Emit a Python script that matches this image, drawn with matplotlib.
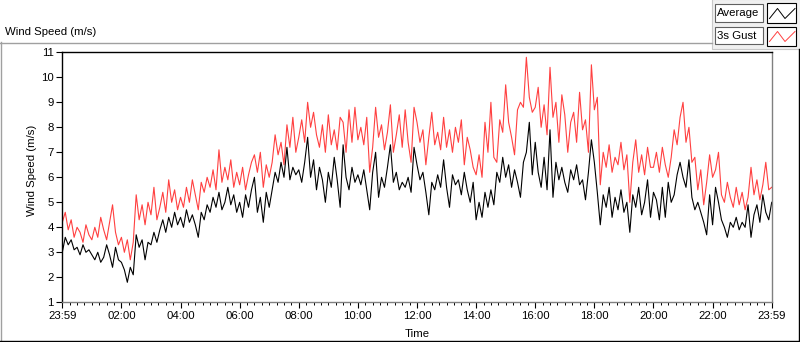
import numpy as np
import matplotlib.pyplot as plt
from matplotlib.lines import Line2D
from matplotlib.patches import Rectangle
from matplotlib.ticker import MultipleLocator

plt.rcParams['font.family'] = ['Liberation Sans', 'DejaVu Sans']

# wind speed, one value every 6 minutes (0.1 h), 23:59 -> 23:59
avg = [3.0, 3.6, 3.3, 3.5, 3.1, 3.2, 2.9, 3.3, 3.0, 3.1,
       2.9, 2.7, 3.0, 2.6, 2.8, 3.3, 2.9, 2.4, 3.2, 2.7,
       2.6, 2.3, 1.8, 2.4, 2.1, 3.7, 3.2, 3.5, 2.7, 3.4,
       3.3, 3.8, 3.4, 3.9, 4.3, 3.8, 4.4, 4.0, 4.6, 4.1,
       4.4, 4.0, 4.7, 4.2, 4.5, 4.1, 3.6, 4.6, 4.3, 4.9,
       4.6, 5.2, 4.8, 5.4, 4.7, 5.0, 5.6, 4.9, 5.3, 4.6,
       5.0, 4.4, 5.3, 4.8, 5.5, 6.0, 4.6, 5.2, 4.2, 5.4,
       4.8, 5.5, 6.2, 5.8, 6.6, 6.0, 7.2, 5.9, 6.4, 6.1,
       6.3, 5.8, 6.6, 7.6, 6.0, 6.7, 5.5, 6.4, 5.9, 5.0,
       6.2, 5.6, 6.8, 5.9, 4.8, 7.3, 6.0, 5.5, 6.4, 5.8,
       6.1, 5.7, 6.3, 5.5, 4.7, 6.2, 7.0, 5.2, 6.0, 5.6,
       6.4, 7.3, 5.8, 6.2, 5.5, 5.8, 5.6, 6.0, 5.4, 7.2,
       6.5, 5.9, 6.2, 5.4, 4.5, 5.8, 5.5, 6.1, 5.6, 6.7,
       5.6, 4.8, 6.1, 5.7, 5.9, 5.3, 6.2, 5.5, 5.0, 5.8,
       4.3, 5.0, 4.4, 5.4, 4.8, 5.5, 4.9, 6.2, 5.8, 6.8,
       6.0, 6.5, 5.6, 6.3, 5.8, 5.2, 6.6, 7.0, 8.2, 6.1,
       7.4, 6.2, 5.6, 6.8, 5.5, 7.9, 5.2, 6.6, 5.9, 6.4,
       5.8, 5.4, 6.3, 5.9, 6.5, 5.7, 5.9, 5.1, 6.2, 7.5,
       6.6, 5.4, 4.1, 5.3, 4.8, 5.6, 4.4, 5.2, 4.7, 5.5,
       4.6, 5.0, 3.8, 5.3, 4.8, 5.6, 4.5, 5.0, 5.9, 4.4,
       5.4, 5.1, 4.3, 5.6, 4.4, 5.8, 5.0, 5.3, 6.1, 6.6,
       6.0, 5.6, 6.7, 5.2, 4.7, 5.0, 4.6, 4.2, 3.7, 5.3,
       4.1, 5.6, 5.0, 4.3, 4.0, 3.6, 4.2, 4.0, 4.4, 3.9,
       4.2, 4.0, 4.9, 3.6, 4.5, 4.9, 4.2, 5.3, 4.6, 4.3,
       5.0]

gust = [4.2, 4.6, 3.9, 4.3, 3.6, 4.0, 3.8, 3.4, 4.1, 3.7,
        3.5, 4.0, 3.6, 4.4, 3.9, 3.5, 4.2, 4.9, 3.8, 3.3,
        3.6, 3.0, 3.5, 2.7, 3.4, 5.3, 4.3, 4.9, 4.1, 5.0,
        4.5, 5.6, 4.3, 4.8, 5.4, 4.6, 5.9, 5.0, 5.5, 4.7,
        5.2, 4.8, 5.6, 5.0, 5.9, 5.3, 4.7, 5.8, 5.4, 6.0,
        5.6, 6.3, 5.5, 7.1, 5.8, 6.4, 5.9, 6.7, 5.6, 6.2,
        5.7, 6.4, 5.5, 6.1, 6.6, 6.9, 6.2, 7.0, 5.6, 6.5,
        6.0, 6.6, 7.7, 6.9, 7.4, 6.5, 8.1, 7.2, 8.4, 7.0,
        7.6, 8.3, 7.4, 9.0, 8.0, 8.6, 7.7, 7.2, 8.1, 7.0,
        8.5, 7.3, 7.9, 7.1, 8.4, 8.2, 7.0, 8.7, 7.4, 8.8,
        7.5, 8.0, 7.3, 8.4, 6.2, 7.2, 8.8, 7.6, 8.1, 7.1,
        7.8, 8.9, 7.0, 7.7, 8.5, 7.2, 8.7, 7.4, 6.6, 8.8,
        8.2, 7.4, 7.9, 6.5, 7.6, 8.6, 7.3, 7.8, 7.1, 8.4,
        7.2, 7.9, 7.0, 8.0, 7.4, 8.3, 6.5, 7.6, 7.1, 6.4,
        6.1, 6.9, 6.0, 8.2, 7.0, 9.0, 6.8, 6.6, 8.3, 7.8,
        9.7, 8.2, 7.6, 6.9, 8.7, 9.0, 8.8, 10.8, 9.2, 8.6,
        8.8, 9.6, 8.0, 8.9, 7.7, 10.4, 8.4, 9.0, 7.4, 9.3,
        8.5, 7.0, 8.2, 8.6, 7.4, 9.4, 7.9, 8.3, 7.0, 10.5,
        8.7, 9.2, 5.7, 7.0, 6.4, 7.3, 6.2, 6.8, 6.5, 7.4,
        6.3, 6.9, 5.0, 6.6, 7.5, 6.2, 6.9, 6.1, 7.2, 6.4,
        6.4, 7.0, 6.2, 7.2, 6.5, 6.0, 6.8, 7.9, 7.3, 8.4,
        9.0, 7.4, 8.0, 6.6, 6.8, 5.5, 6.3, 4.9, 5.8, 6.9,
        6.0, 6.3, 7.0, 5.3, 5.0, 5.8, 5.2, 4.8, 5.6, 4.9,
        5.4, 4.7, 5.2, 6.4, 5.3, 5.9, 5.1, 5.7, 6.6, 5.5,
        5.6]

tick_hours = [0, 2, 4, 6, 8, 10, 12, 14, 16, 18, 20, 22, 24]
tick_labels = ['23:59', '02:00', '04:00', '06:00', '08:00', '10:00', '12:00',
               '14:00', '16:00', '18:00', '20:00', '22:00', '23:59']
y_ticks = list(range(1, 12))

hours = np.linspace(0, 24, len(avg))

W, H = 800, 342
fig = plt.figure(figsize=(W / 100, H / 100), dpi=100)


def fx(px):
    return px / W


def fy(py):
    return 1 - py / H


def hline(x0, x1, y, color, lw=1.0):
    fig.add_artist(Line2D([fx(x0), fx(x1)], [fy(y), fy(y)], color=color, lw=lw))


def vline(x, y0, y1, color, lw=1.0):
    fig.add_artist(Line2D([fx(x), fx(x)], [fy(y0), fy(y1)], color=color, lw=lw))


def box(x0, y0, x1, y1, face, edge):
    fig.add_artist(Rectangle((fx(x0), fy(y1)), fx(x1) - fx(x0), fy(y0) - fy(y1),
                             facecolor=face, edgecolor=edge, lw=0.8))


FS = 8.2

# plot area
ax = fig.add_axes([fx(62.3), fy(302.3), fx(771.7) - fx(62.3), fy(52.3) - fy(302.3)])
ax.plot(hours, gust, color='#ff4040', lw=0.8)
ax.plot(hours, avg, color='black', lw=0.8)
ax.set_xlim(0, 24)
ax.set_ylim(1, 11)
ax.set_xticks(tick_hours)
ax.set_xticklabels(tick_labels)
ax.xaxis.set_minor_locator(MultipleLocator(0.25))
ax.set_yticks(y_ticks)
ax.tick_params(axis='both', which='major', direction='out', length=4, width=0.8,
               labelsize=FS, pad=2, colors='black')
ax.tick_params(axis='x', which='minor', direction='out', length=2.5, width=0.7)
ax.spines['top'].set_color('black')
ax.spines['left'].set_color('black')
ax.spines['right'].set_color('#808080')
ax.spines['bottom'].set_color('#808080')
for s in ax.spines.values():
    s.set_linewidth(1.0)

fig.text(fx(417), fy(334), 'Time', ha='center', va='center', fontsize=FS)
fig.text(fx(32), fy(170), 'Wind Speed (m/s)', ha='center', va='center',
         rotation=90, fontsize=FS)
fig.text(fx(5), fy(32), 'Wind Speed (m/s)', ha='left', va='center', fontsize=FS)

# outer frame
hline(0, 712, 42.5, '#a0a0a0')
vline(0.5, 42, 342, '#a0a0a0')
hline(0, 800, 340.5, 'black')
vline(799, 49, 341, 'black')

# legend panel
box(711.5, -1, 801, 49, '#f0f0f0', '#c8c8c8')
box(715, 4, 763, 21.5, 'white', '#606060')
box(715, 27, 763, 44, 'white', '#606060')
box(767, 3, 796, 23, 'white', 'black')
box(767, 27, 796, 46, 'white', 'black')
fig.text(fx(717), fy(13), 'Average', ha='left', va='center', fontsize=FS)
fig.text(fx(717), fy(36), '3s Gust', ha='left', va='center', fontsize=FS)
zx = [fx(v) for v in (769.5, 777.5, 785, 795)]
fig.add_artist(Line2D(zx, [fy(v) for v in (18.5, 8.5, 18.5, 8.5)], color='black', lw=0.7))
fig.add_artist(Line2D(zx, [fy(v) for v in (41.5, 31.5, 41.5, 31.5)], color='#ff4040', lw=0.7))

fig.savefig('out.png', dpi=100)
